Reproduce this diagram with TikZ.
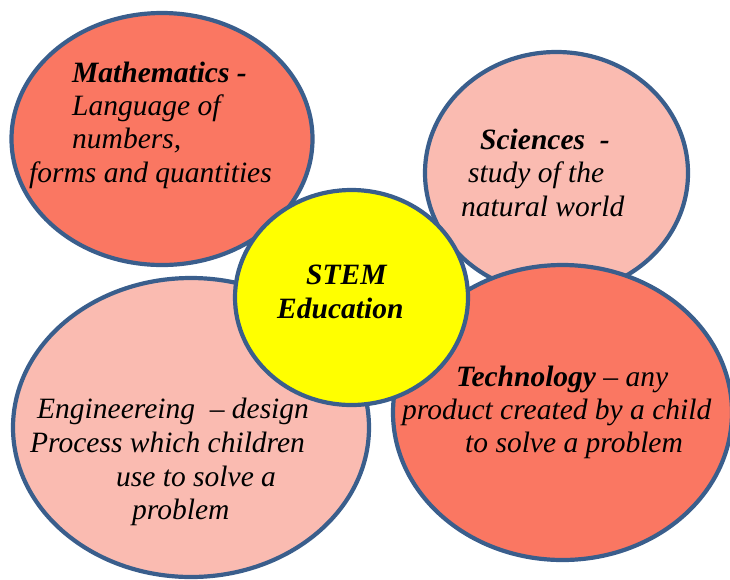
\documentclass[tikz,border=0pt]{standalone}
\usepackage{fontspec}
\setmainfont{Liberation Serif}
\usetikzlibrary{shapes.geometric}
\definecolor{salmon}{RGB}{250,119,98}
\definecolor{blush}{RGB}{250,187,177}
\definecolor{rim}{RGB}{58,94,140}
\definecolor{core}{RGB}{255,255,0}
\begin{document}
\begin{tikzpicture}[x=1pt,y=-1pt,
  bubble/.style={ellipse, draw=rim, line width=4.2pt, inner sep=0pt},
  txt/.style={anchor=base west, inner sep=0pt, font=\fontsize{29.5}{34}\selectfont\itshape}]
\useasboundingbox (0,0) rectangle (730,579);
% outer topic bubbles
\node[bubble, fill=salmon, minimum width=301pt, minimum height=252pt] (math) at (162,139) {};
\node[bubble, fill=blush, minimum width=263pt, minimum height=242pt] (sci) at (556.5,173) {};
\node[bubble, fill=blush, minimum width=356pt, minimum height=299pt] (eng) at (191,427.5) {};
\node[bubble, fill=salmon, minimum width=339pt, minimum height=295pt] (tech) at (562.5,412.5) {};
% central bubble
\node[bubble, fill=core, minimum width=233pt, minimum height=215pt] (stem) at (351.5,297.5) {};
% labels
\node[txt] (m1) at (72,82) {\textbf{Mathematics -}};
\node[txt] (m2) at (72,115) {Language of};
\node[txt] (m3) at (72,148) {numbers,};
\node[txt] (m4) at (29,182) {forms and quantities};
\node[txt] (s1) at (480,149) {\textbf{Sciences\ \ -}};
\node[txt] (s2) at (468,182) {study of the};
\node[txt] (s3) at (461,216) {natural world};
\node[txt] (e1) at (37,418) {Engineereing\ \ -- design};
\node[txt] (e2) at (30,452) {Process which children};
\node[txt] (e3) at (116,486) {use to solve a};
\node[txt] (e4) at (132,519) {problem};
\node[txt] (t1) at (456,386) {\textbf{Technology} -- any};
\node[txt] (t2) at (402,419) {product created by a child};
\node[txt] (t3) at (465,452) {to solve a problem};
\node[txt] (c1) at (306,284) {\textbf{STEM}};
\node[txt] (c2) at (277,318) {\textbf{Education}};
\end{tikzpicture}
\end{document}
